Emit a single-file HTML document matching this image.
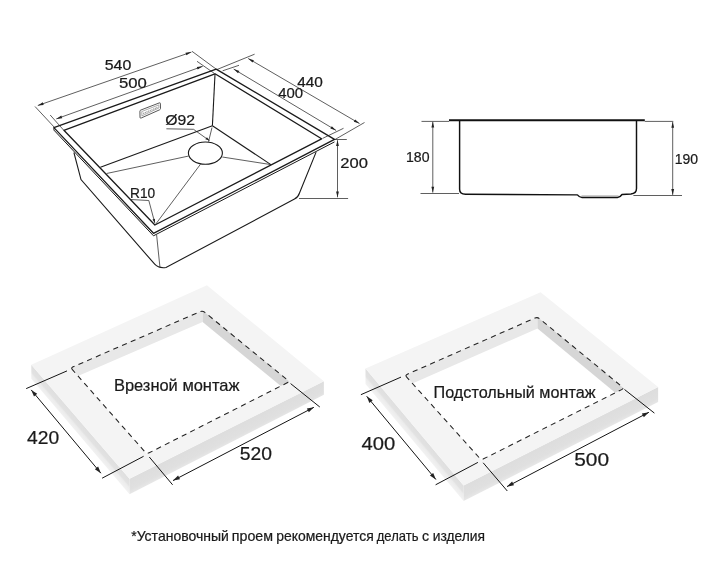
<!DOCTYPE html>
<html><head><meta charset="utf-8"><style>
html,body{margin:0;padding:0;background:#fff;width:706px;height:563px;overflow:hidden}
svg{display:block;filter:grayscale(1)}
text{font-family:"Liberation Sans",sans-serif;stroke:#1a1a1a;stroke-width:0.22px}
.m{stroke:#1a1a1a;stroke-width:1.3;stroke-linejoin:round}
.m2{stroke:#1a1a1a;stroke-width:1.1}
.t{stroke:#222;stroke-width:0.8}
.d{stroke:#2a2a2a;stroke-width:0.75}
.s{stroke:#141414;stroke-width:1.0}
</style></head><body>
<svg width="706" height="563" viewBox="0 0 706 563">
<rect width="706" height="563" fill="#fff"/>
<line class="d" x1="37.8" y1="105.5" x2="191.4" y2="52.1"/><polygon fill="#222" points="37.8,105.5 42.8,102.3 43.7,104.9"/><polygon fill="#222" points="191.4,52.1 186.4,55.3 185.5,52.7"/>
<line class="d" x1="35.0" y1="106.5" x2="55.0" y2="128.0"/>
<line class="d" x1="192.0" y1="51.3" x2="216.0" y2="69.0"/>
<line class="d" x1="56.3" y1="118.9" x2="202.7" y2="66.3"/><polygon fill="#222" points="56.3,118.9 61.3,115.6 62.2,118.3"/><polygon fill="#222" points="202.7,66.3 197.7,69.6 196.8,66.9"/>
<line class="d" x1="50.2" y1="115.0" x2="63.6" y2="130.1"/>
<line class="d" x1="197.0" y1="61.3" x2="214.5" y2="73.5"/>
<line class="d" x1="248.2" y1="58.5" x2="359.5" y2="123.5"/><polygon fill="#222" points="248.2,58.5 253.9,60.2 252.5,62.6"/><polygon fill="#222" points="359.5,123.5 353.8,121.8 355.2,119.4"/>
<line class="d" x1="254.6" y1="54.2" x2="217.0" y2="69.5"/>
<line class="d" x1="364.5" y1="122.5" x2="335.0" y2="139.5"/>
<line class="d" x1="233.7" y1="69.1" x2="336.1" y2="130.4"/><polygon fill="#222" points="233.7,69.1 239.4,70.9 238.0,73.3"/><polygon fill="#222" points="336.1,130.4 330.4,128.6 331.8,126.2"/>
<line class="d" x1="239.0" y1="65.3" x2="222.6" y2="70.8"/>
<line class="d" x1="343.5" y1="128.3" x2="322.6" y2="138.4"/>
<line class="d" x1="334.7" y1="139.5" x2="346.8" y2="139.5"/>
<line class="d" x1="299.0" y1="198.5" x2="348.1" y2="198.5"/>
<line class="d" x1="337.5" y1="140.2" x2="337.5" y2="197.3"/><polygon fill="#222" points="337.5,140.2 338.9,146.0 336.1,146.0"/><polygon fill="#222" points="337.5,197.3 336.1,191.5 338.9,191.5"/>
<polygon fill="#fff" stroke="none" points="53.9,127.6 153.5,233.3 334.5,139.4 334.5,141.9 153.5,235.8 53.9,130.1"/>
<polyline fill="none" stroke="#1a1a1a" stroke-width="1.0" points="53.9,130.1 153.5,235.8 334.5,141.9"/>
<line stroke="#1a1a1a" stroke-width="0.9" x1="53.9" y1="127.6" x2="53.9" y2="130.1"/>
<polygon class="m" fill="none" points="53.9,127.6 216.2,69.1 334.5,139.4 153.5,233.3"/>
<polygon class="m" fill="none" points="63.9,130.3 215.0,73.8 321.6,138.8 154.9,225.0"/>
<line class="m2" x1="215.0" y1="74.2" x2="212.4" y2="125.8"/>
<line class="m2" x1="212.4" y1="125.8" x2="100.4" y2="167.2"/>
<line class="m2" x1="212.4" y1="125.8" x2="270.9" y2="164.6"/>
<line class="d" x1="212.0" y1="127.5" x2="208.5" y2="141.8"/>
<line class="d" x1="222.3" y1="157.0" x2="270.9" y2="164.6"/>
<line class="d" x1="188.8" y1="156.0" x2="106.6" y2="173.5"/>
<line class="d" x1="200.5" y1="164.2" x2="155.8" y2="224.0"/>
<ellipse class="m2" fill="#fff" cx="205.4" cy="153.1" rx="17" ry="11.1"/>
<path fill="none" stroke="#444" stroke-width="0.9" d="M140.7,110.1 L159.3,102.9 Q160.4,102.5 160.4,103.6 L160.5,108.4 Q160.5,109.4 159.6,109.8 L141.2,118.0 Q140.0,118.5 140.0,117.3 L139.9,111.2 Q139.9,110.4 140.7,110.1 Z"/>
<path fill="none" stroke="#8a8a8a" stroke-width="0.7" d="M141.8,111.5 L158.8,104.9 L158.9,108.0 L141.9,115.9 Z"/>
<line x1="143.2" y1="113.6" x2="157.6" y2="107.3" stroke="#999" stroke-width="1.3" stroke-dasharray="1.1 0.7"/>
<path class="m2" fill="none" d="M73.9,152.5 L81.0,179.6 L154.7,264.2 Q158.5,268.5 166,267.5 L294.5,199 Q298.3,197 299.5,193 L316.1,152.1"/>
<line class="d" x1="156.6" y1="234.8" x2="160.0" y2="267.8"/>
<line class="d" x1="166.4" y1="128.8" x2="193.5" y2="129.3"/>
<line class="d" x1="193.5" y1="129.3" x2="209.4" y2="140.6"/>
<polygon fill="#222" points="209.4,140.6 205.4,139.3 206.9,137.2"/>
<line class="d" x1="130.4" y1="199.5" x2="148.8" y2="200.5"/>
<line class="d" x1="148.8" y1="200.5" x2="154.8" y2="222.9"/>
<polygon fill="#222" points="154.8,222.9 152.5,219.4 155.0,218.7"/>
<line class="d" x1="421.5" y1="121.4" x2="449.0" y2="121.4"/>
<line class="d" x1="420.5" y1="193.5" x2="459.0" y2="193.5"/>
<line class="d" x1="432.8" y1="121.8" x2="432.8" y2="192.6"/><polygon fill="#222" points="432.8,121.8 434.2,127.6 431.4,127.6"/><polygon fill="#222" points="432.8,192.6 431.4,186.8 434.2,186.8"/>
<line class="d" x1="644.8" y1="121.4" x2="673.3" y2="121.4"/>
<line class="d" x1="633.4" y1="195.5" x2="682.0" y2="195.5"/>
<line class="d" x1="672.7" y1="122.0" x2="672.7" y2="194.9"/><polygon fill="#222" points="672.7,122.0 674.1,127.8 671.3,127.8"/><polygon fill="#222" points="672.7,194.9 671.3,189.1 674.1,189.1"/>
<line x1="449" y1="120.3" x2="644.8" y2="120.3" stroke="#111" stroke-width="1.9"/>
<line x1="581.5" y1="195.9" x2="618.5" y2="195.9" stroke="#999" stroke-width="0.8"/>
<path fill="none" stroke="#111" stroke-width="1.45" stroke-linejoin="round" d="M459.6,121 L459.6,189.2 Q459.6,194.2 465.5,194.2 L577.4,194.9 Q579.5,197.5 582,197.5 L617.5,197.5 Q620,197.5 622,194.5 L631,194 Q636.5,193.5 636.5,188.5 L636.5,121"/>
<defs><linearGradient id="g1" gradientUnits="userSpaceOnUse" x1="31.30" y1="364.80" x2="23.64" y2="371.40"><stop offset="0" stop-color="#dfdfdf"/><stop offset="0.45" stop-color="#e2e2e2"/><stop offset="0.6" stop-color="#ececec"/><stop offset="1" stop-color="#f2f2f2"/></linearGradient><linearGradient id="g2" gradientUnits="userSpaceOnUse" x1="129.50" y1="478.80" x2="135.72" y2="491.18"><stop offset="0" stop-color="#dddddd"/><stop offset="0.7" stop-color="#e0e0e0"/><stop offset="1" stop-color="#e7e7e7"/></linearGradient></defs><polygon fill="url(#g1)" points="31.3,364.8 129.5,478.8 129.5,494.3 31.3,378.8"/><polygon fill="url(#g2)" points="129.5,478.8 323.9,381.2 323.9,394.7 129.5,494.3"/><polygon fill="#f4f4f4" points="31.3,364.8 206.9,285.2 323.9,381.2 129.5,478.8"/><polygon fill="#ffffff" points="70.7,367.8 202.6,310.6 289.5,381.6 146.9,454.0"/><polygon fill="#e8e8e8" points="70.7,367.8 202.6,310.6 202.6,322.1 78.0,376.1"/><polygon fill="#d6d6d6" points="202.6,310.6 289.5,381.6 280.8,386.0 202.6,322.1"/><path fill="none" stroke="#222" stroke-width="1.05" stroke-dasharray="5.2 4.3" d="M72.4,369.7 Q70.7,367.8 73.1,366.8 L200.2,311.6 Q202.6,310.6 204.6,312.2 L287.5,380.0 Q289.5,381.6 287.2,382.8 L149.2,452.8 Q146.9,454.0 145.2,452.1 Z"/>
<defs><linearGradient id="g3" gradientUnits="userSpaceOnUse" x1="365.50" y1="368.60" x2="357.82" y2="375.05"><stop offset="0" stop-color="#dfdfdf"/><stop offset="0.45" stop-color="#e2e2e2"/><stop offset="0.6" stop-color="#ececec"/><stop offset="1" stop-color="#f2f2f2"/></linearGradient><linearGradient id="g4" gradientUnits="userSpaceOnUse" x1="463.60" y1="485.40" x2="469.88" y2="497.82"><stop offset="0" stop-color="#dddddd"/><stop offset="0.7" stop-color="#e0e0e0"/><stop offset="1" stop-color="#e7e7e7"/></linearGradient></defs><polygon fill="url(#g3)" points="365.5,368.6 463.6,485.4 463.6,501.0 365.5,384.1"/><polygon fill="url(#g4)" points="463.6,485.4 658.1,387.0 658.1,402.0 463.6,501.0"/><polygon fill="#f4f4f4" points="365.5,368.6 540.6,292.2 658.1,387.0 463.6,485.4"/><polygon fill="#ffffff" points="405.0,375.2 537.5,317.0 624.0,388.4 481.3,460.0"/><polygon fill="#e8e8e8" points="405.0,375.2 537.5,317.0 537.5,328.5 412.4,383.4"/><polygon fill="#d6d6d6" points="537.5,317.0 624.0,388.4 615.3,392.7 537.5,328.5"/><path fill="none" stroke="#222" stroke-width="1.05" stroke-dasharray="5.2 4.3" d="M406.7,377.1 Q405.0,375.2 407.4,374.2 L535.1,318.0 Q537.5,317.0 539.5,318.7 L622.0,386.7 Q624.0,388.4 621.7,389.6 L483.6,458.8 Q481.3,460.0 479.6,458.1 Z"/>
<line class="s" x1="26.2" y1="388.6" x2="67.0" y2="370.9"/>
<line class="s" x1="102.1" y1="478.2" x2="143.6" y2="456.3"/>
<line class="s" x1="31.2" y1="389.9" x2="100.9" y2="473.2"/><polygon fill="#222" points="31.2,389.9 37.2,393.8 34.0,396.5"/><polygon fill="#222" points="100.9,473.2 94.9,469.3 98.1,466.6"/>
<line class="s" x1="149.3" y1="457.0" x2="172.6" y2="484.8"/>
<line class="s" x1="290.6" y1="383.6" x2="319.8" y2="407.0"/>
<line class="s" x1="173.0" y1="480.6" x2="313.9" y2="407.3"/><polygon fill="#222" points="173.0,480.6 178.1,475.6 180.0,479.3"/><polygon fill="#222" points="313.9,407.3 308.8,412.3 306.9,408.6"/>
<line class="s" x1="360.9" y1="394.7" x2="401.0" y2="377.1"/>
<line class="s" x1="435.6" y1="484.8" x2="477.9" y2="462.4"/>
<line class="s" x1="366.7" y1="396.3" x2="435.9" y2="479.5"/><polygon fill="#222" points="366.7,396.3 372.7,400.2 369.4,402.9"/><polygon fill="#222" points="435.9,479.5 429.9,475.6 433.2,472.9"/>
<line class="s" x1="483.2" y1="462.8" x2="507.3" y2="491.0"/>
<line class="s" x1="624.5" y1="389.5" x2="654.4" y2="413.1"/>
<line class="s" x1="507.0" y1="486.6" x2="648.9" y2="412.3"/><polygon fill="#222" points="507.0,486.6 512.1,481.6 514.0,485.3"/><polygon fill="#222" points="648.9,412.3 643.8,417.3 641.9,413.6"/>
<text id="t1" x="104.74" y="70.05" font-size="14.20" textLength="26.51" lengthAdjust="spacingAndGlyphs" fill="#1a1a1a">540</text>
<text id="t2" x="119.00" y="88.15" font-size="14.20" textLength="27.83" lengthAdjust="spacingAndGlyphs" fill="#1a1a1a">500</text>
<text id="t3" x="297.25" y="86.75" font-size="14.20" textLength="25.64" lengthAdjust="spacingAndGlyphs" fill="#1a1a1a">440</text>
<text id="t4" x="278.28" y="97.75" font-size="14.20" textLength="24.91" lengthAdjust="spacingAndGlyphs" fill="#1a1a1a">400</text>
<text id="t5" x="165.27" y="124.90" font-size="14.00" textLength="29.78" lengthAdjust="spacingAndGlyphs" fill="#1a1a1a">Ø92</text>
<text id="t6" x="340.33" y="167.75" font-size="14.20" textLength="27.58" lengthAdjust="spacingAndGlyphs" fill="#1a1a1a">200</text>
<text id="t7" x="130.11" y="197.55" font-size="14.20" textLength="25.12" lengthAdjust="spacingAndGlyphs" fill="#1a1a1a">R10</text>
<text id="t8" x="406.00" y="162.15" font-size="14.20" textLength="23.46" lengthAdjust="spacingAndGlyphs" fill="#1a1a1a">180</text>
<text id="t9" x="674.76" y="163.75" font-size="14.20" textLength="23.34" lengthAdjust="spacingAndGlyphs" fill="#1a1a1a">190</text>
<text id="t10" x="113.93" y="391.00" font-size="16.38" textLength="125.51" lengthAdjust="spacingAndGlyphs" fill="#1a1a1a">Врезной монтаж</text>
<text id="t11" x="433.56" y="397.80" font-size="16.67" textLength="161.97" lengthAdjust="spacingAndGlyphs" fill="#1a1a1a">Подстольный монтаж</text>
<text id="t12" x="27.10" y="443.75" font-size="18.30" textLength="32.09" lengthAdjust="spacingAndGlyphs" fill="#1a1a1a">420</text>
<text id="t13" x="239.87" y="460.45" font-size="18.30" textLength="32.25" lengthAdjust="spacingAndGlyphs" fill="#1a1a1a">520</text>
<text id="t14" x="361.62" y="449.75" font-size="18.30" textLength="33.73" lengthAdjust="spacingAndGlyphs" fill="#1a1a1a">400</text>
<text id="t15" x="574.24" y="466.35" font-size="18.30" textLength="34.88" lengthAdjust="spacingAndGlyphs" fill="#1a1a1a">500</text>
<text id="t16" x="131.22" y="541.10" font-size="14.20" textLength="97.62" lengthAdjust="spacingAndGlyphs" fill="#1a1a1a">*Установочный</text>
<text id="t17" x="231.83" y="541.10" font-size="14.20" textLength="41.21" lengthAdjust="spacingAndGlyphs" fill="#1a1a1a">проем</text>
<text id="t18" x="276.27" y="541.10" font-size="14.20" textLength="97.41" lengthAdjust="spacingAndGlyphs" fill="#1a1a1a">рекомендуется</text>
<text id="t19" x="376.78" y="541.10" font-size="14.20" textLength="41.66" lengthAdjust="spacingAndGlyphs" fill="#1a1a1a">делать</text>
<text id="t20" x="421.99" y="541.10" font-size="14.20" fill="#1a1a1a">с</text>
<text id="t21" x="432.75" y="541.10" font-size="14.20" textLength="52.31" lengthAdjust="spacingAndGlyphs" fill="#1a1a1a">изделия</text>
</svg></body></html>
